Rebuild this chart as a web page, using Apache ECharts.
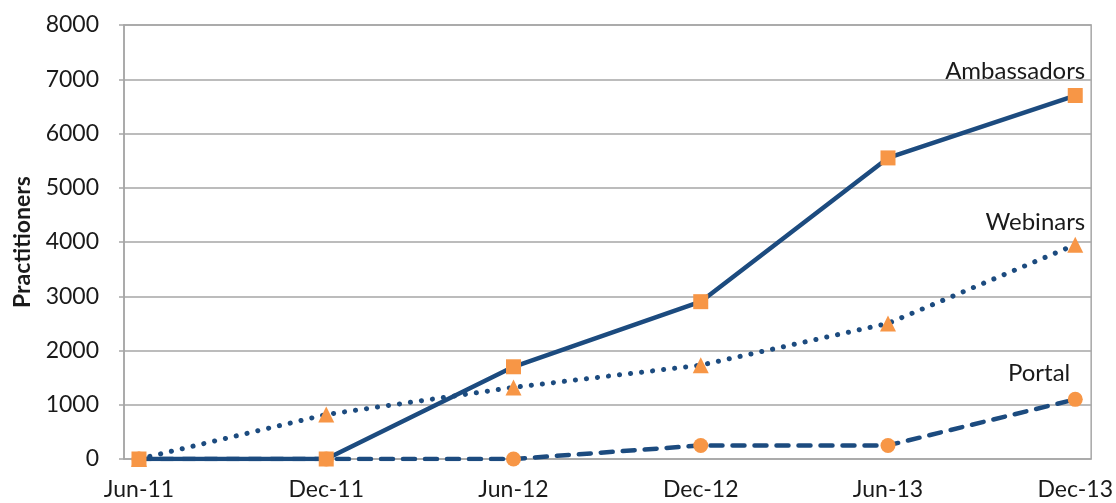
<!DOCTYPE html>
<html><head><meta charset="utf-8">
<script src="https://cdn.jsdelivr.net/npm/echarts@6/dist/echarts.min.js"></script>
<style>html,body{margin:0;padding:0;background:#fff}#c{width:1116px;height:503px}</style>
</head><body><div id="c"></div>
<script>
const categories = ['Jun-11','Dec-11','Jun-12','Dec-12','Jun-13','Dec-13'];
const ambassadors = [0, 0, 1700, 2900, 5550, 6700];
const webinars = [0, 820, 1320, 1730, 2500, 3950];
const portal = [0, 0, 0, 250, 250, 1100];
const yTicks = [0,1000,2000,3000,4000,5000,6000,7000,8000];

const NAVY = '#1c4b7f', ORANGE = '#f79646', FONT = 'Lato', TXT = '#1a1a1a';

function mk(vals, name, labelOffset){
  return vals.map((v,i)=>{
    const item = {value:[i, v]};
    if (i === vals.length-1) {
      item.label = {show:true, formatter:name, position:'top', align:'right',
        offset: labelOffset, color:TXT, fontFamily:FONT, fontSize:24};
    }
    return item;
  });
}

const chart = echarts.init(document.getElementById('c'));
chart.setOption({
  animation:false,
  grid:{left:124, right:23, top:25, bottom:44, show:true, borderColor:'#a6a6a6', borderWidth:1.5},
  xAxis:{type:'value', min:-0.08, max:5.085,
    axisLine:{show:false}, axisTick:{show:false}, splitLine:{show:false},
    axisLabel:{customValues:[0,1,2,3,4,5], formatter:v=>categories[Math.round(v)],
      color:TXT, fontFamily:FONT, fontSize:23, margin:19}},
  yAxis:{type:'value', min:yTicks[0], max:yTicks[yTicks.length-1], interval:1000,
    name:'Practitioners', nameLocation:'middle', nameGap:90, nameRotate:90,
    nameTextStyle:{fontFamily:FONT, fontWeight:'bold', fontSize:23, color:TXT},
    axisLine:{show:true, onZero:false, lineStyle:{color:'#a6a6a6', width:1.5}},
    axisTick:{show:true, length:5, lineStyle:{color:'#a6a6a6', width:1.5}},
    splitLine:{lineStyle:{color:'#a6a6a6', width:1.5}},
    axisLabel:{color:TXT, fontFamily:FONT, fontSize:23, margin:25, formatter:v=>String(v)}},
  series:[
    {name:'Portal', type:'line', data:mk(portal,'Portal',[-5,-2]), symbol:'circle', symbolSize:15,
      lineStyle:{color:NAVY, width:4.5, type:[12,10], cap:'round'}, itemStyle:{color:ORANGE}, z:2},
    {name:'Webinars', type:'line', data:mk(webinars,'Webinars',[10,3]), symbol:'triangle', symbolSize:16,
      lineStyle:{color:NAVY, width:5, type:[0.1,11], cap:'round'}, itemStyle:{color:ORANGE}, z:3},
    {name:'Ambassadors', type:'line', data:mk(ambassadors,'Ambassadors',[10,0]), symbol:'rect', symbolSize:15,
      lineStyle:{color:NAVY, width:4.5}, itemStyle:{color:ORANGE}, z:4}
  ]
});
</script></body></html>
